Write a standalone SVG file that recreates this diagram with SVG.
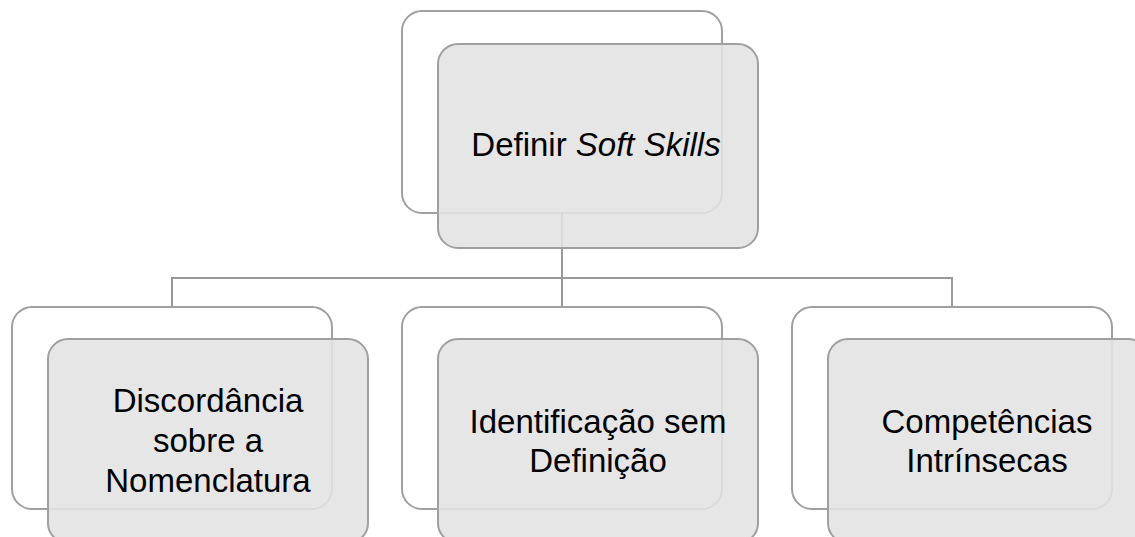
<svg xmlns="http://www.w3.org/2000/svg" width="1135" height="537" viewBox="0 0 1135 537">
  <style>
    .back { fill: #ffffff; stroke: #a0a0a0; stroke-width: 2; }
    .front { fill: #e2e2e2; fill-opacity: 0.88; stroke: #a0a0a0; stroke-width: 2; }
    .conn { fill: none; stroke: #999999; stroke-width: 2; }
    .lbl { font-family: "Liberation Sans", Arial, sans-serif; font-size: 33px; fill: #000000; text-anchor: middle; }
  </style>
  <rect x="0" y="0" width="1135" height="537" fill="#ffffff"/>
  <g id="connectors">
    <path class="conn" d="M562 213 V278"/>
    <path class="conn" d="M172 307 V278 H952 V307"/>
    <path class="conn" d="M562 278 V307"/>
  </g>
  <g id="node-root">
    <rect class="back" x="402" y="11" width="320" height="202" rx="20" ry="20"/>
    <rect class="front" x="438" y="44" width="320" height="204" rx="20" ry="20"/>
    <text class="lbl" x="596" y="156">Definir <tspan font-style="italic">Soft Skills</tspan></text>
  </g>
  <g id="node-discordancia">
    <rect class="back" x="12" y="307" width="320" height="202" rx="20" ry="20"/>
    <rect class="front" x="48" y="339" width="320" height="204" rx="20" ry="20"/>
    <text class="lbl" x="208" y="412">Discordância</text>
    <text class="lbl" x="208" y="452">sobre a</text>
    <text class="lbl" x="208" y="492">Nomenclatura</text>
  </g>
  <g id="node-identificacao">
    <rect class="back" x="402" y="307" width="320" height="202" rx="20" ry="20"/>
    <rect class="front" x="438" y="339" width="320" height="204" rx="20" ry="20"/>
    <text class="lbl" x="598" y="433">Identificação sem</text>
    <text class="lbl" x="598" y="472">Definição</text>
  </g>
  <g id="node-competencias">
    <rect class="back" x="792" y="307" width="320" height="202" rx="20" ry="20"/>
    <rect class="front" x="828" y="339" width="320" height="204" rx="20" ry="20"/>
    <text class="lbl" x="987" y="433">Competências</text>
    <text class="lbl" x="987" y="472">Intrínsecas</text>
  </g>
</svg>
